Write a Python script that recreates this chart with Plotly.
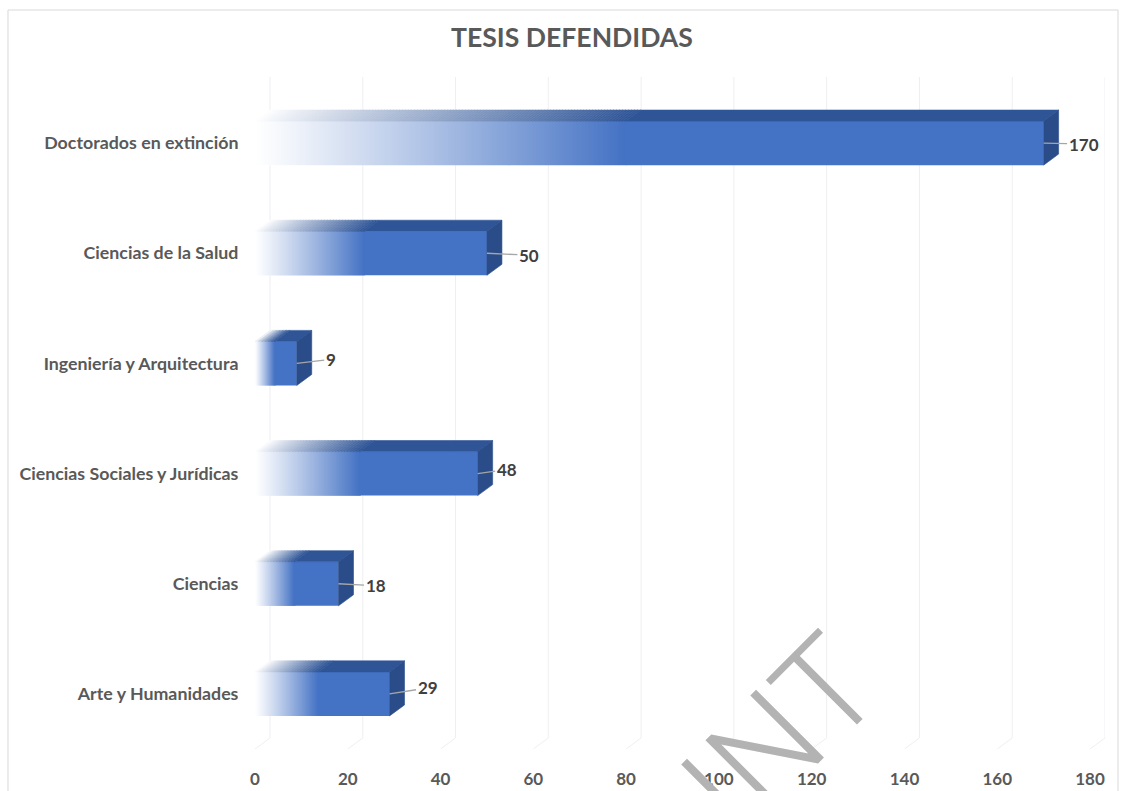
import plotly.graph_objects as go

categories = ["Arte y Humanidades", "Ciencias", "Ciencias Sociales y Jurídicas",
              "Ingeniería y Arquitectura", "Ciencias de la Salud", "Doctorados en extinción"]
values = [29, 18, 48, 9, 50, 170]
x_ticks = [0, 20, 40, 60, 80, 100, 120, 140, 160, 180]
title_text = "TESIS DEFENDIDAS"
watermark_text = "PRINT"

# label leader offsets in pixels (label centre relative to the bar's end)
label_dx = [38, 37, 29, 34, 42, 40]
label_dy = [-6, 2, -4, -4, 2, 1]

FONT = "Lato"
DX, DY = 3.23, 0.10      # 3-D depth in data units
HALF = 0.2               # half bar thickness
FADE = 0.47              # share of bar length taken by the fade
BLUE = (68, 114, 196)
DARK = (47, 85, 151)
SIDE = (42, 77, 138)
PX_PER_UNIT = 4.64


def mix(c, t):
    return "rgb(%d,%d,%d)" % tuple(round(255 + (k - 255) * t) for k in c)


fig = go.Figure()

shapes = [dict(type="rect", xref="paper", yref="paper", x0=-0.2906, x1=1.0153, y0=-0.2, y1=1.0997,
               line=dict(color="#d9d9d9", width=1), fillcolor="rgba(0,0,0,0)", layer="below")]
# gridlines on floor and back wall
for v in x_ticks:
    shapes.append(dict(type="path", xref="x", yref="y", layer="below",
                       path=f"M {v} -0.5 L {v + DX} -0.4 L {v + DX} 5.6",
                       line=dict(color="#efeff2", width=1)))

bx, bb, by, bc = [], [], [], []
for i, v in enumerate(values):
    L = v * FADE
    # front face fade, about one pixel per step
    steps = max(4, int(L * PX_PER_UNIT))
    w = L / steps
    for s in range(steps):
        t = (s + 0.5) / steps
        bx.append(w + 0.25); bb.append(s * w); by.append(i)
        bc.append(mix(BLUE, t ** 1.1))
    bx.append(v - L); bb.append(L); by.append(i); bc.append("rgb(%d,%d,%d)" % BLUE)
    # top face fade
    y0, y1 = i + HALF, i + HALF + DY
    steps = max(4, int(L * PX_PER_UNIT / 3))
    w = L / steps
    for s in range(steps):
        t = (s + 0.5) / steps
        a, b = s * w, (s + 1) * w
        col = mix(DARK, t ** 0.9)
        fig.add_trace(go.Scatter(x=[a, b, b + DX, a + DX, a], y=[y0, y0, y1, y1, y0], mode="lines",
                                 fill="toself", fillcolor=col, line=dict(color=col, width=0.6),
                                 hoverinfo="skip", showlegend=False))
    c = "rgb(%d,%d,%d)" % DARK
    fig.add_trace(go.Scatter(x=[L, v, v + DX, L + DX, L], y=[y0, y0, y1, y1, y0], mode="lines",
                             fill="toself", fillcolor=c, line=dict(color=c, width=0.6),
                             hoverinfo="skip", showlegend=False))
    # right side face
    c = "rgb(%d,%d,%d)" % SIDE
    fig.add_trace(go.Scatter(x=[v, v + DX, v + DX, v, v], y=[i - HALF, i - HALF + DY, i + HALF + DY, i + HALF, i - HALF],
                             mode="lines", fill="toself", fillcolor=c, line=dict(color=c, width=0.6),
                             hoverinfo="skip", showlegend=False))

fig.add_trace(go.Bar(x=bx, y=by, base=bb, orientation="h", width=HALF * 2,
                     marker=dict(color=bc, line=dict(width=0)), hoverinfo="skip", showlegend=False))

annotations = []
for i, v in enumerate(values):
    annotations.append(dict(x=v, y=i, xref="x", yref="y", text="<b>%d</b>" % v, showarrow=True,
                            arrowhead=0, arrowwidth=1.3, arrowcolor="#a6a6a6", axref="pixel", ayref="pixel",
                            ax=label_dx[i], ay=label_dy[i],
                            font=dict(family=FONT, size=17, color="#404040")))
annotations.append(dict(x=0.373, y=1.0595, xref="paper", yref="paper", yanchor="middle", xanchor="center",
                        showarrow=False, text="<b>%s</b>" % title_text,
                        font=dict(family=FONT, size=26.6, color="#595959")))
annotations.append(dict(xref="paper", yref="paper", x=0.549, y=-0.356, text=watermark_text, textangle=-45,
                        showarrow=False, font=dict(family="Roboto", size=135, color="#b3b3b3", weight=300)))

fig.update_layout(
    width=1130, height=791, autosize=False, paper_bgcolor="white", plot_bgcolor="rgba(0,0,0,0)",
    margin=dict(l=255, r=25, t=77, b=42), barmode="overlay", showlegend=False,
    xaxis=dict(range=[0, 183.23], tickmode="array", tickvals=x_ticks, ticks="outside", ticklen=15, automargin=False,
               tickcolor="rgba(0,0,0,0)", showgrid=False, zeroline=False, showline=False,
               tickfont=dict(family=FONT, size=17, color="#595959", weight="bold")),
    yaxis=dict(range=[-0.5, 5.6], tickmode="array", tickvals=list(range(len(categories))), ticktext=categories,
               ticks="outside", ticklen=12, tickcolor="rgba(0,0,0,0)", showgrid=False, zeroline=False, automargin=False,
               showline=False, tickfont=dict(family=FONT, size=17.8, color="#595959", weight="bold")),
    annotations=annotations,
    shapes=shapes,
)

fig.write_html("out.html", config={"displayModeBar": False},
               post_script="document.body.style.margin='0';document.documentElement.style.overflow='hidden';")
